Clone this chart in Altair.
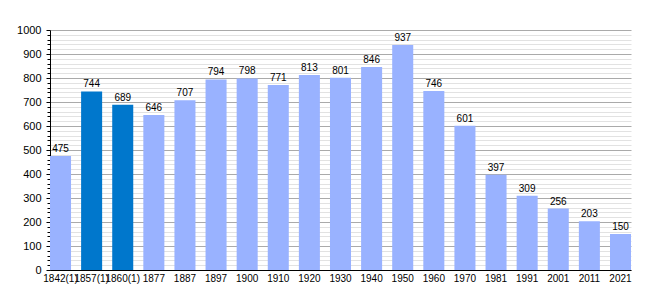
import altair as alt
import pandas as pd

years = ["1842(1)", "1857(1)", "1860(1)", "1877", "1887", "1897", "1900", "1910",
         "1920", "1930", "1940", "1950", "1960", "1970", "1981", "1991", "2001",
         "2011", "2021"]
population = [475, 744, 689, 646, 707, 794, 798, 771, 813, 801, 846, 937, 746,
              601, 397, 309, 256, 203, 150]
highlight = [False, True, True] + [False] * 16

LIGHT = "#99b2ff"
DARK = "#0077cc"

df = pd.DataFrame({"year": years, "pop": population, "hl": highlight})

xaxis = alt.Axis(labelAngle=0, labelFontSize=10, labelFont="Liberation Sans",
                 labelColor="#000", tickSize=0, domainColor="#000",
                 domainWidth=1, labelPadding=3, labelOverlap=False,
                 labelBound=False, labelFlush=False)

yvals = list(range(0, 1001, 20))
yaxis = alt.Axis(values=yvals, tickCount=len(yvals), format="d",
                 labelExpr="datum.value % 100 === 0 ? datum.label : ''",
                 labelFontSize=11, labelFont="Liberation Sans",
                 labelColor="#000", labelPadding=5, labelOverlap=False,
                 tickColor="#000",
                 tickSize={"condition": {"test": "datum.value % 100 === 0", "value": 4}, "value": 3},
                 grid=True,
                 gridColor={"condition": {"test": "datum.value % 100 === 0", "value": "#aaaaaa"}, "value": "#e2e2e2"},
                 gridWidth=1,
                 domainColor="#000", domainWidth=1)

xenc = alt.X("year:N", sort=years, title=None,
             scale=alt.Scale(paddingInner=0.324, paddingOuter=0), axis=xaxis)
yenc = alt.Y("pop:Q", title=None,
             scale=alt.Scale(domain=[0, 1000], nice=False), axis=yaxis)

bars = alt.Chart(df).mark_bar().encode(
    x=xenc,
    y=yenc,
    color=alt.Color("hl:N", scale=alt.Scale(domain=[False, True], range=[LIGHT, DARK]), legend=None),
)

text = alt.Chart(df).mark_text(baseline="bottom", dy=-2, fontSize=10,
                               font="Liberation Sans", color="#000").encode(
    x=xenc,
    y=yenc,
    text="pop:Q",
)

chart = (bars + text).properties(
    width=581, height=240,
    autosize=alt.AutoSizeParams(type="none"),
    padding={"left": 50, "top": 30, "right": 29, "bottom": 30},
).configure_view(stroke=None)

chart.save("out.html", embed_options={"renderer": "svg", "actions": False})
